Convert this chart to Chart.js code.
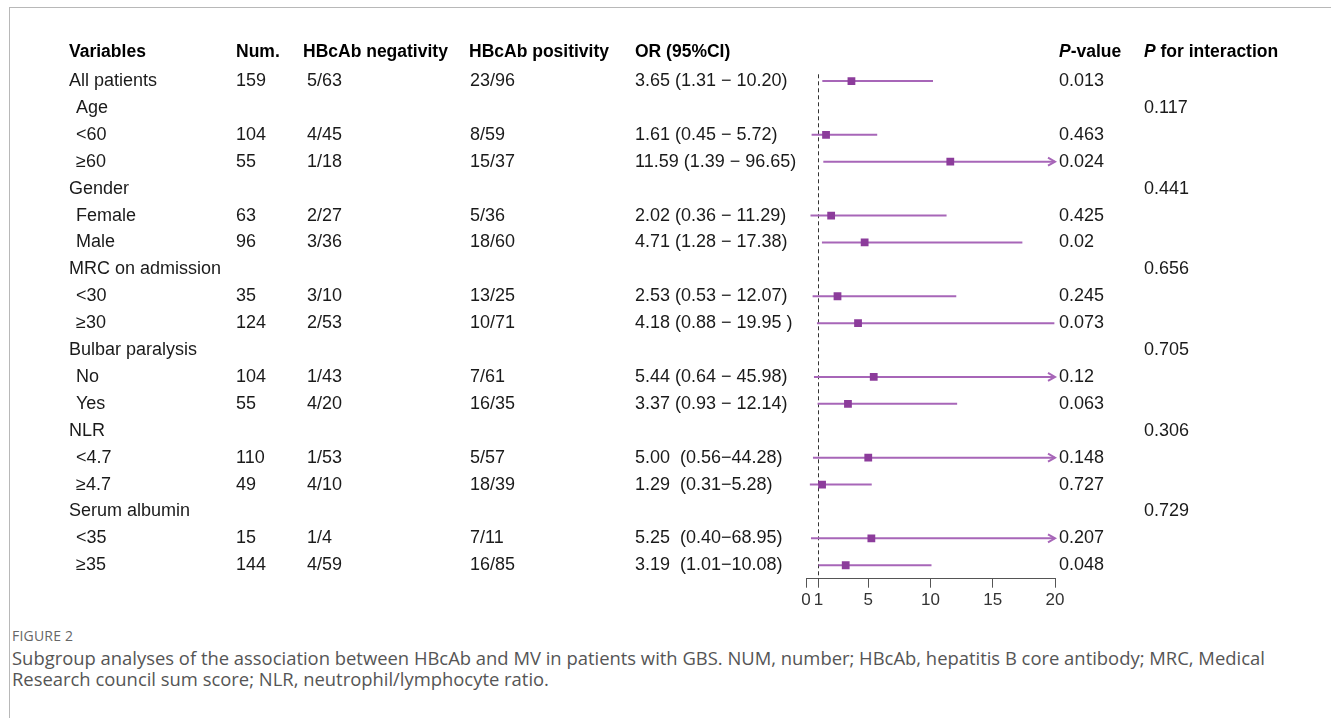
<!DOCTYPE html>
<html>
<head>
<meta charset="utf-8">
<script src="https://cdn.jsdelivr.net/npm/chart.js@4.4.1/dist/chart.umd.min.js"></script>
<style>
  html, body { margin: 0; padding: 0; background: #fff; }
  body { width: 1331px; height: 718px; position: relative; overflow: hidden; }
  .frame { position: absolute; left: 9px; top: 7px; right: 0; bottom: 0; border-top: 1px solid #b8b8b8; border-left: 1px solid #b8b8b8; }
  #forest { position: absolute; left: 0; top: 0; }
  .figlabel { position: absolute; left: 12px; top: 628px; font: 14px "Open Sans", sans-serif; line-height: 16px; color: #666; letter-spacing: 0.2px; }
  .caption { position: absolute; left: 12px; top: 647px; width: 1310px; margin: 0; font-family: "Open Sans", sans-serif; font-size: 18px; line-height: 21px; color: #555; white-space: nowrap; }
</style>
</head>
<body>
<div class="frame"></div>
<canvas id="forest" width="1331" height="620"></canvas>
<div class="figlabel">FIGURE 2</div>
<p class="caption" id="cap"><span id="capLine">Subgroup analyses of the association between HBcAb and MV in patients with GBS. NUM, number; HBcAb, hepatitis B core antibody; MRC, Medical</span><br>Research council sum score; NLR, neutrophil/lymphocyte ratio.</p>
<script>
// table rows, top to bottom
const rowLabels = ['All patients', 'Age', '<60', '≥60', 'Gender', 'Female', 'Male', 'MRC on admission', '<30', '≥30',
  'Bulbar paralysis', 'No', 'Yes', 'NLR', '<4.7', '≥4.7', 'Serum albumin', '<35', '≥35'];
const indented = [false, true, true, true, false, true, true, false, true, true, false, true, true, false, true, true, false, true, true];
const numValues = ['159', '', '104', '55', '', '63', '96', '', '35', '124', '', '104', '55', '', '110', '49', '', '15', '144'];
const negValues = ['5/63', '', '4/45', '1/18', '', '2/27', '3/36', '', '3/10', '2/53', '', '1/43', '4/20', '', '1/53', '4/10', '', '1/4', '4/59'];
const posValues = ['23/96', '', '8/59', '15/37', '', '5/36', '18/60', '', '13/25', '10/71', '', '7/61', '16/35', '', '5/57', '18/39', '', '7/11', '16/85'];
const orLabels = ['3.65 (1.31 − 10.20)', '', '1.61 (0.45 − 5.72)', '11.59 (1.39 − 96.65)', '', '2.02 (0.36 − 11.29)', '4.71 (1.28 − 17.38)', '',
  '2.53 (0.53 − 12.07)', '4.18 (0.88 − 19.95 )', '', '5.44 (0.64 − 45.98)', '3.37 (0.93 − 12.14)', '',
  '5.00  (0.56−44.28)', '1.29  (0.31−5.28)', '', '5.25  (0.40−68.95)', '3.19  (1.01−10.08)'];
const orValues = [3.65, null, 1.61, 11.59, null, 2.02, 4.71, null, 2.53, 4.18, null, 5.44, 3.37, null, 5.00, 1.29, null, 5.25, 3.19];
const ciLower = [1.31, null, 0.45, 1.39, null, 0.36, 1.28, null, 0.53, 0.88, null, 0.64, 0.93, null, 0.56, 0.31, null, 0.40, 1.01];
const ciUpper = [10.20, null, 5.72, 96.65, null, 11.29, 17.38, null, 12.07, 19.95, null, 45.98, 12.14, null, 44.28, 5.28, null, 68.95, 10.08];
const pValues = ['0.013', '', '0.463', '0.024', '', '0.425', '0.02', '', '0.245', '0.073', '', '0.12', '0.063', '', '0.148', '0.727', '', '0.207', '0.048'];
const pInteraction = ['', '0.117', '', '', '0.441', '', '', '0.656', '', '', '0.705', '', '', '0.306', '', '', '0.729', '', ''];
const headers = ['Variables', 'Num.', 'HBcAb negativity', 'HBcAb positivity', 'OR (95%CI)'];
const xTicks = [0, 1, 5, 10, 15, 20];
const X_MIN = 0, X_MAX = 20, REF_LINE = 1;

// layout
const headX = [69, 236, 303, 469, 635];
const colX = { label: 69, indent: 7, num: 236, neg: 307, pos: 470, or: 635, p: 1059, pint: 1144 };
const FONT = '"Liberation Sans", Arial, sans-serif';
const FONT_SIZE = 18;
const HEAD_SIZE = 17.5;
const LINE_COLOR = '#a766b8';
const POINT_COLOR = '#8c3c9b';
const TEXT_COLOR = '#1a1a1a';

// stretch caption font so the first line ends where the original does
(function fitCaption() {
  const target = 1254;
  const c = document.createElement('canvas').getContext('2d');
  c.font = '100px "Open Sans"';
  const w = c.measureText(document.getElementById('capLine').textContent).width;
  document.getElementById('cap').style.fontSize = (100 * target / w).toFixed(2) + 'px';
})();

const ciSets = [];
orValues.forEach((v, i) => {
  if (v === null) return;
  ciSets.push({
    type: 'scatter',
    showLine: true,
    data: [{ x: ciLower[i], y: i }, { x: ciUpper[i], y: i }],
    borderColor: LINE_COLOR,
    borderWidth: 2,
    pointRadius: 0,
    clip: 0,
    order: 1
  });
});

const pointSet = {
  type: 'scatter',
  data: orValues.map((v, i) => v === null ? null : { x: v, y: i }).filter(d => d),
  pointStyle: 'rect',
  pointRadius: 5.5,
  backgroundColor: POINT_COLOR,
  borderWidth: 0,
  order: 0
};

const tablePlugin = {
  id: 'tableText',
  beforeDatasetsDraw(chart) {
    const ctx = chart.ctx, x = chart.scales.x, area = chart.chartArea;
    // reference line at OR = 1
    const rx = Math.round(x.getPixelForValue(REF_LINE)) + 0.5;
    ctx.save();
    ctx.strokeStyle = '#333';
    ctx.lineWidth = 1;
    ctx.setLineDash([4, 3]);
    ctx.beginPath();
    ctx.moveTo(rx, area.top);
    ctx.lineTo(rx, area.bottom);
    ctx.stroke();
    ctx.restore();
  },
  afterDatasetsDraw(chart) {
    const ctx = chart.ctx, y = chart.scales.y, x = chart.scales.x;
    ctx.save();
    // arrows for CIs running past the axis
    ctx.strokeStyle = LINE_COLOR;
    ctx.lineWidth = 2;
    ciUpper.forEach((hi, i) => {
      if (hi === null || hi <= X_MAX) return;
      const tx = x.getPixelForValue(X_MAX), ty = y.getPixelForValue(i);
      ctx.beginPath();
      ctx.moveTo(tx - 7, ty - 4);
      ctx.lineTo(tx, ty);
      ctx.lineTo(tx - 7, ty + 4);
      ctx.stroke();
    });

    ctx.textBaseline = 'middle';
    ctx.textAlign = 'left';
    const hy = y.getPixelForValue(-1.07);
    ctx.fillStyle = '#000';
    ctx.font = 'bold ' + HEAD_SIZE + 'px ' + FONT;
    headX.forEach((cx, k) => ctx.fillText(headers[k], cx, hy));
    // P-value / P for interaction with italic P
    const drawP = (cx, rest) => {
      ctx.font = 'italic bold ' + HEAD_SIZE + 'px ' + FONT;
      ctx.fillText('P', cx, hy);
      const w = ctx.measureText('P').width;
      ctx.font = 'bold ' + HEAD_SIZE + 'px ' + FONT;
      ctx.fillText(rest, cx + w, hy);
    };
    drawP(colX.p, '-value');
    drawP(colX.pint, ' for interaction');

    ctx.font = FONT_SIZE + 'px ' + FONT;
    ctx.fillStyle = TEXT_COLOR;
    rowLabels.forEach((lab, i) => {
      const ry = y.getPixelForValue(i);
      ctx.fillText(lab, colX.label + (indented[i] ? colX.indent : 0), ry);
      ctx.fillText(numValues[i], colX.num, ry);
      ctx.fillText(negValues[i], colX.neg, ry);
      ctx.fillText(posValues[i], colX.pos, ry);
      ctx.fillText(orLabels[i], colX.or, ry);
      ctx.fillText(pValues[i], colX.p, ry);
      ctx.fillText(pInteraction[i], colX.pint, ry);
    });
    ctx.restore();
  }
};

const CANVAS_H = 620;
const AXIS_H = 36;
const PLOT_TOP = 74.3, PLOT_BOTTOM = 578.7;

new Chart(document.getElementById('forest'), {
  type: 'scatter',
  data: { datasets: [pointSet, ...ciSets] },
  options: {
    responsive: false,
    animation: false,
    layout: { padding: { left: 806, right: 1331 - 1055, top: PLOT_TOP, bottom: CANVAS_H - PLOT_BOTTOM - AXIS_H } },
    plugins: { legend: { display: false }, tooltip: { enabled: false } },
    scales: {
      x: {
        type: 'linear',
        min: X_MIN,
        max: X_MAX,
        afterBuildTicks: s => { s.ticks = xTicks.map(v => ({ value: v })); },
        afterFit: s => { s.height = AXIS_H; },
        border: { color: '#555', width: 1 },
        grid: { drawOnChartArea: false, drawTicks: true, tickLength: 9, color: '#555' },
        ticks: { autoSkip: false, maxRotation: 0, padding: 2, color: '#333', font: { family: FONT, size: 17 } }
      },
      y: {
        type: 'linear',
        reverse: true,
        min: -0.25,
        max: 18.5,
        display: false
      }
    }
  },
  plugins: [tablePlugin]
});
</script>
</body>
</html>
